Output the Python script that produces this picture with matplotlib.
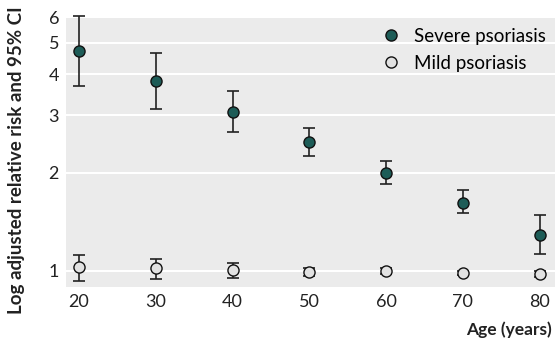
import matplotlib
matplotlib.use('Agg')
import matplotlib.pyplot as plt
from matplotlib.ticker import FixedLocator, NullLocator

ages = [20, 30, 40, 50, 60, 70, 80]

# severe psoriasis: relative risk, lower and upper 95% CI
severe_rr = [4.72, 3.81, 3.07, 2.49, 2.00, 1.62, 1.29]
severe_lo = [3.69, 3.14, 2.67, 2.25, 1.85, 1.50, 1.13]
severe_hi = [6.06, 4.66, 3.56, 2.74, 2.17, 1.77, 1.48]

# mild psoriasis
mild_rr = [1.03, 1.02, 1.01, 0.995, 1.00, 0.986, 0.979]
mild_lo = [0.93, 0.945, 0.954, 0.965, 0.98, 0.975, 0.955]
mild_hi = [1.12, 1.09, 1.06, 1.02, 1.02, 0.997, 1.00]

y_ticks = [1, 2, 3, 4, 5, 6]
x_ticks = [20, 30, 40, 50, 60, 70, 80]

plt.rcParams['font.family'] = ['Lato', 'DejaVu Sans']

fig = plt.figure(figsize=(5.55, 3.47), dpi=100)
ax = fig.add_axes([66 / 555, 1 - 287 / 347, 1 - 66 / 555, 270 / 347])
ax.set_facecolor('#ebebeb')

def draw(rr, lo, hi, face, label):
    err = [[r - l for r, l in zip(rr, lo)], [h - r for r, h in zip(rr, hi)]]
    ax.errorbar(ages, rr, yerr=err, fmt='none', ecolor='#222222',
                elinewidth=1.2, capsize=4.5, capthick=1.2, clip_on=False, zorder=3)
    ax.plot(ages, rr, 'o', ms=8, mfc=face, mec='#111111', mew=1.0,
            label=label, clip_on=False, zorder=4)

draw(severe_rr, severe_lo, severe_hi, '#1d5c57', 'Severe psoriasis')
draw(mild_rr, mild_lo, mild_hi, '#e2e2e2', 'Mild psoriasis')

ax.set_yscale('log')
ax.set_ylim(0.893, 6.0)
ax.set_xlim(18.3, 82)
ax.yaxis.set_major_locator(FixedLocator(y_ticks))
ax.yaxis.set_minor_locator(NullLocator())
ax.set_yticklabels([str(t) for t in y_ticks])
ax.set_xticks(x_ticks)
ax.tick_params(axis='both', length=0, labelsize=13, colors='#222222')
ax.tick_params(axis='x', pad=5)
ax.tick_params(axis='y', pad=5)
ax.grid(axis='y', color='white', linewidth=1.5)
ax.set_axisbelow(True)
for s in ax.spines.values():
    s.set_visible(False)

fig.text(0.03, 0.539, 'Log adjusted relative risk and 95% CI', rotation=90,
         ha='center', va='center', fontsize=13.5, fontweight='bold', color='#222222')
fig.text(0.995, 0.049, 'Age (years)', ha='right', va='center',
         fontsize=12.5, fontweight='bold', color='#222222')

ax.legend(loc='upper right', frameon=False, fontsize=13.5, handletextpad=0.2,
          borderaxespad=0.1, labelspacing=0.55, bbox_to_anchor=(1.0, 0.995))

fig.savefig('out.png', dpi=100)
